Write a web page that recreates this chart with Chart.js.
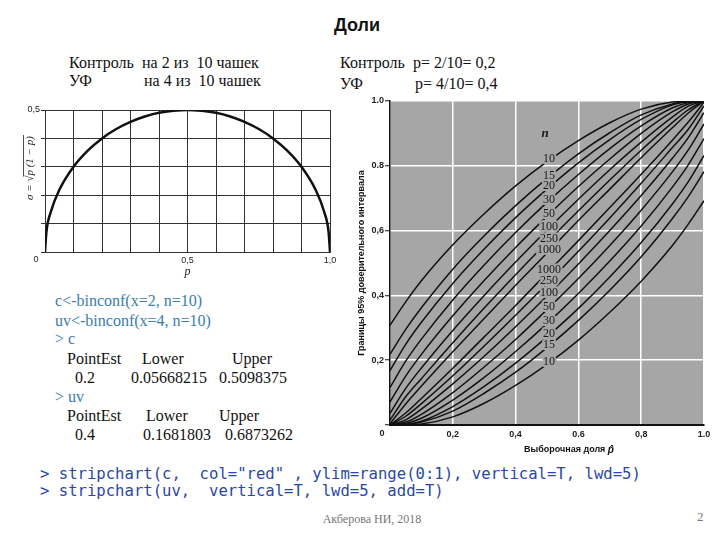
<!DOCTYPE html>
<html>
<head>
<meta charset="utf-8">
<script src="https://cdn.jsdelivr.net/npm/chart.js@4.4.0/dist/chart.umd.min.js"></script>
<style>
body { margin: 0; width: 720px; height: 540px; position: relative; background: #fff; overflow: hidden; font-family: "Liberation Serif", serif; }
.t { position: absolute; white-space: pre; line-height: 18px; font-size: 16px; color: #111; }
.r { color: #3a7db0; }
.code { position: absolute; white-space: pre; font-family: "DejaVu Sans Mono", monospace; font-size: 15.6px; line-height: 17px; color: #2a47a6; }
#left-box { position: absolute; left: 0; top: 100px; width: 345px; height: 185px; }
#right-box { position: absolute; left: 340px; top: 90px; width: 380px; height: 370px; }
</style>
</head>
<body>
<div class="t" style="left:307px;top:15px;width:100px;text-align:center;font:bold 18px 'Liberation Sans',sans-serif;line-height:20px;">Доли</div>

<div class="t" style="left:69px;top:54px;">Контроль</div>
<div class="t" style="left:142px;top:54px;">на 2 из  10 чашек</div>
<div class="t" style="left:69px;top:72px;">УФ</div>
<div class="t" style="left:144px;top:72px;">на 4 из  10 чашек</div>

<div class="t" style="left:340px;top:54px;">Контроль</div>
<div class="t" style="left:413px;top:54px;">p= 2/10= 0,2</div>
<div class="t" style="left:340px;top:75px;">УФ</div>
<div class="t" style="left:415px;top:75px;">p= 4/10= 0,4</div>

<div id="left-box"><canvas id="sigma-chart"></canvas></div>
<div id="right-box"><canvas id="ci-chart"></canvas></div>

<div class="t r" style="left:55px;top:292px;">c&lt;-binconf(x=2, n=10)</div>
<div class="t r" style="left:55px;top:312px;">uv&lt;-binconf(x=4, n=10)</div>
<div class="t r" style="left:55px;top:330px;">&gt; c</div>
<div class="t" style="left:67px;top:350px;">PointEst</div>
<div class="t" style="left:142px;top:350px;">Lower</div>
<div class="t" style="left:232px;top:350px;">Upper</div>
<div class="t" style="left:75px;top:369px;">0.2</div>
<div class="t" style="left:131px;top:369px;">0.05668215</div>
<div class="t" style="left:219px;top:369px;">0.5098375</div>
<div class="t r" style="left:55px;top:388px;">&gt; uv</div>
<div class="t" style="left:67px;top:407px;">PointEst</div>
<div class="t" style="left:146px;top:407px;">Lower</div>
<div class="t" style="left:219px;top:407px;">Upper</div>
<div class="t" style="left:75px;top:426px;">0.4</div>
<div class="t" style="left:143px;top:426px;">0.1681803</div>
<div class="t" style="left:225px;top:426px;">0.6873262</div>

<div class="code" style="left:40px;top:466px;">&gt; stripchart(c,  col="red" , ylim=range(0:1), vertical=T, lwd=5)</div>
<div class="code" style="left:40px;top:483px;">&gt; stripchart(uv,  vertical=T, lwd=5, add=T)</div>

<div class="t" style="left:272px;top:510px;width:200px;text-align:center;font-size:12px;color:#777;">Акберова НИ, 2018</div>
<div class="t" style="left:697px;top:508px;font-size:13px;color:#777;">2</div>

<script>
// left chart: sigma = sqrt(p(1-p))
const pLeft = [0, 0.005, 0.02, 0.05, 0.1, 0.15, 0.2, 0.25, 0.3, 0.35, 0.4, 0.45, 0.5,
    0.55, 0.6, 0.65, 0.7, 0.75, 0.8, 0.85, 0.9, 0.95, 0.98, 0.995, 1];
const sigma = [0, 0.071, 0.14, 0.218, 0.3, 0.357, 0.4, 0.433, 0.458, 0.477, 0.49, 0.497, 0.5,
    0.497, 0.49, 0.477, 0.458, 0.433, 0.4, 0.357, 0.3, 0.218, 0.14, 0.071, 0];
const leftXTickLabels = ["", "", "", "", "", "0,5", "", "", "", "", "1,0"];
const leftYTickLabels = ["", "", "", "", "", "0,5"];

// right chart: 95% confidence limits by sample size n
const pGrid = [0, 0.05, 0.1, 0.2, 0.3, 0.4, 0.5, 0.6, 0.7, 0.8, 0.9, 0.95, 1];
const sampleSizes = ["10", "15", "20", "30", "50", "100", "250", "1000"];
const upper10 = [0.308, 0.38, 0.445, 0.556, 0.652, 0.738, 0.813, 0.878, 0.933, 0.975, 0.997, 0.999, 1];
const upper15 = [0.218, 0.295, 0.362, 0.481, 0.584, 0.677, 0.761, 0.837, 0.902, 0.957, 0.991, 0.999, 1];
const upper20 = [0.168, 0.249, 0.317, 0.437, 0.543, 0.64, 0.728, 0.809, 0.881, 0.943, 0.988, 0.998, 1];
const upper30 = [0.116, 0.197, 0.265, 0.386, 0.494, 0.594, 0.687, 0.773, 0.853, 0.923, 0.979, 0.995, 1];
const upper50 = [0.071, 0.151, 0.218, 0.337, 0.446, 0.548, 0.644, 0.736, 0.821, 0.9, 0.967, 0.991, 1];
const upper100 = [0.036, 0.113, 0.176, 0.292, 0.4, 0.503, 0.602, 0.697, 0.788, 0.873, 0.951, 0.984, 1];
const upper250 = [0.015, 0.087, 0.143, 0.254, 0.361, 0.464, 0.564, 0.661, 0.756, 0.848, 0.934, 0.973, 1];
const upper1000 = [0.004, 0.065, 0.12, 0.226, 0.329, 0.431, 0.531, 0.631, 0.728, 0.825, 0.918, 0.963, 1];
const lower10 = [0, 0.001, 0.003, 0.025, 0.067, 0.122, 0.187, 0.262, 0.348, 0.444, 0.555, 0.62, 0.692];
const lower15 = [0, 0.001, 0.009, 0.043, 0.098, 0.163, 0.239, 0.323, 0.416, 0.519, 0.638, 0.705, 0.782];
const lower20 = [0, 0.002, 0.012, 0.057, 0.119, 0.191, 0.272, 0.36, 0.457, 0.563, 0.683, 0.751, 0.832];
const lower30 = [0, 0.005, 0.021, 0.077, 0.147, 0.227, 0.313, 0.406, 0.506, 0.614, 0.735, 0.803, 0.884];
const lower50 = [0, 0.009, 0.033, 0.1, 0.179, 0.264, 0.356, 0.452, 0.554, 0.663, 0.782, 0.849, 0.929];
const lower100 = [0, 0.016, 0.049, 0.127, 0.212, 0.303, 0.398, 0.497, 0.6, 0.708, 0.824, 0.887, 0.964];
const lower250 = [0, 0.027, 0.066, 0.152, 0.244, 0.339, 0.436, 0.536, 0.639, 0.746, 0.857, 0.913, 0.985];
const lower1000 = [0, 0.037, 0.082, 0.175, 0.272, 0.369, 0.469, 0.569, 0.671, 0.774, 0.88, 0.935, 0.996];
const rightXTickLabels = ["", "0,2", "0,4", "0.6", "0,8", "1.0"];
const rightYTickLabels = ["", "0,2", "0,4", "0,6", "0.8", "1.0"];

const upperSets = [upper10, upper15, upper20, upper30, upper50, upper100, upper250, upper1000];
const lowerSets = [lower10, lower15, lower20, lower30, lower50, lower100, lower250, lower1000];

const PLOT_GRAY = "#a6a6a6";

const toPoints = (xs, ys) => xs.map((x, i) => ({ x: x, y: ys[i] }));

// ---------- left chart ----------
new Chart(document.getElementById("sigma-chart"), {
    type: "line",
    data: {
        datasets: [
            {
                data: toPoints(pLeft, sigma),
                borderColor: "#111",
                borderWidth: 2.5,
                pointRadius: 0,
                cubicInterpolationMode: "monotone",
            },
        ],
    },
    options: {
        responsive: true,
        maintainAspectRatio: false,
        animation: false,
        layout: { padding: { top: 10, right: 15, bottom: 0, left: 0 } },
        plugins: { legend: { display: false }, tooltip: { enabled: false } },
        scales: {
            x: {
                type: "linear",
                min: 0,
                max: 1,
                ticks: {
                    stepSize: 0.1,
                    autoSkip: false,
                    maxRotation: 0,
                    padding: 3,
                    color: "#222",
                    font: { family: "Liberation Sans", size: 9 },
                    callback: (v, i) => leftXTickLabels[i],
                },
                grid: { color: "#333", lineWidth: 1, drawTicks: false },
                border: { color: "#333", width: 1 },
                title: {
                    display: true,
                    text: "p",
                    color: "#222",
                    font: { family: "Liberation Serif", size: 12, style: "italic" },
                    padding: { top: 0, bottom: 6 },
                },
                afterFit: (scale) => { scale.height = 33; },
            },
            y: {
                min: 0,
                max: 0.5,
                ticks: {
                    stepSize: 0.1,
                    padding: 1,
                    color: "#222",
                    font: { family: "Liberation Sans", size: 9 },
                    callback: (v, i) => leftYTickLabels[i],
                },
                grid: { color: "#333", lineWidth: 1, tickLength: 4 },
                border: { color: "#333", width: 1 },
                afterFit: (scale) => { scale.width = 45; },
            },
        },
    },
    plugins: [
        {
            id: "sigmaExtras",
            afterDraw: (chart) => {
                const ctx = chart.ctx;
                const a = chart.chartArea;
                ctx.save();
                ctx.fillStyle = "#222";
                ctx.font = "9px 'Liberation Sans'";
                ctx.textAlign = "center";
                ctx.textBaseline = "middle";
                ctx.fillText("0", a.left - 9, a.bottom + 8);

                // rotated y title with a root bar
                ctx.translate(30, 68);
                ctx.rotate(-Math.PI / 2);
                ctx.font = "italic 11px 'Liberation Serif'";
                ctx.textAlign = "left";
                const head = "σ = √";
                const body = "p (1 − p)";
                const w1 = ctx.measureText(head).width;
                const w2 = ctx.measureText(body).width;
                const x0 = -(w1 + w2) / 2;
                ctx.fillText(head, x0, 0);
                ctx.fillText(body, x0 + w1, 0);
                ctx.strokeStyle = "#222";
                ctx.lineWidth = 0.8;
                ctx.beginPath();
                ctx.moveTo(x0 + w1 - 1, -6.5);
                ctx.lineTo(x0 + w1 + w2 + 1, -6.5);
                ctx.stroke();
                ctx.restore();
            },
        },
    ],
});

// ---------- right chart ----------
const ciDatasets = [];
upperSets.forEach((ys, i) => {
    ciDatasets.push({ label: sampleSizes[i], data: toPoints(pGrid, ys) });
});
for (let i = lowerSets.length - 1; i >= 0; i--) {
    ciDatasets.push({ label: sampleSizes[i], data: toPoints(pGrid, lowerSets[i]) });
}
ciDatasets.forEach((ds) => {
    ds.borderColor = "#111";
    ds.borderWidth = 1.5;
    ds.pointRadius = 0;
    ds.cubicInterpolationMode = "monotone";
});

new Chart(document.getElementById("ci-chart"), {
    type: "line",
    data: { datasets: ciDatasets },
    options: {
        responsive: true,
        maintainAspectRatio: false,
        animation: false,
        layout: { padding: { top: 11, right: 16, bottom: 0, left: 12 } },
        plugins: { legend: { display: false }, tooltip: { enabled: false } },
        scales: {
            x: {
                type: "linear",
                min: 0,
                max: 1,
                ticks: {
                    stepSize: 0.2,
                    autoSkip: false,
                    maxRotation: 0,
                    padding: 4,
                    color: "#222",
                    font: { family: "Liberation Sans", size: 9, weight: "bold" },
                    callback: (v, i) => rightXTickLabels[i],
                },
                grid: { color: "#fff", lineWidth: 1.5, drawTicks: false },
                border: { color: "#111", width: 2 },
                afterFit: (scale) => { scale.height = 35; },
            },
            y: {
                min: 0,
                max: 1,
                ticks: {
                    stepSize: 0.2,
                    padding: 1,
                    color: "#222",
                    font: { family: "Liberation Sans", size: 9, weight: "bold" },
                    callback: (v, i) => rightYTickLabels[i],
                },
                grid: { color: "#fff", lineWidth: 1.5, tickLength: 5, tickColor: "#111", tickWidth: 1 },
                border: { color: "#111", width: 1.5 },
                title: {
                    display: true,
                    text: "Границы 95% доверительного интервала",
                    color: "#111",
                    font: { family: "Liberation Sans", size: 9, weight: "bold" },
                    padding: { top: 4, bottom: 0 },
                },
                afterFit: (scale) => { scale.width = 38; },
            },
        },
    },
    plugins: [
        {
            id: "plotBackground",
            beforeDraw: (chart) => {
                const ctx = chart.ctx;
                const a = chart.chartArea;
                ctx.save();
                ctx.fillStyle = PLOT_GRAY;
                ctx.fillRect(a.left, a.top, a.right - a.left, a.bottom - a.top);
                ctx.restore();
            },
        },
        {
            id: "curveLabels",
            afterDatasetsDraw: (chart) => {
                const ctx = chart.ctx;
                ctx.save();
                ctx.font = "12px 'Liberation Serif'";
                ctx.textAlign = "center";
                ctx.textBaseline = "middle";
                ctx.lineJoin = "round";
                chart.data.datasets.forEach((ds, i) => {
                    const pt = chart.getDatasetMeta(i).data[6];
                    const x = pt.x + 2;
                    const y = pt.y - 3;
                    ctx.strokeStyle = PLOT_GRAY;
                    ctx.lineWidth = 4;
                    ctx.strokeText(ds.label, x, y);
                    ctx.fillStyle = "#1a1a1a";
                    ctx.fillText(ds.label, x, y);
                });
                const top = chart.getDatasetMeta(0).data[6];
                ctx.font = "bold italic 13px 'Liberation Serif'";
                ctx.fillText("n", top.x - 2, top.y - 28);
                ctx.restore();
            },
            afterDraw: (chart) => {
                const ctx = chart.ctx;
                const a = chart.chartArea;
                const xs = chart.scales.x;
                ctx.save();
                ctx.fillStyle = "#222";
                ctx.textBaseline = "middle";
                ctx.textAlign = "center";
                ctx.font = "bold 9px 'Liberation Sans'";
                ctx.fillText("0", a.left - 8, a.bottom + 9);

                // x axis title, shifted right as in the source figure
                const main = "Выборочная доля ";
                const hat = "p̂";
                ctx.textAlign = "left";
                const w1 = ctx.measureText(main).width;
                ctx.font = "bold italic 10px 'Liberation Sans'";
                const w2 = ctx.measureText(hat).width;
                const cx = xs.getPixelForValue(0.57);
                const x0 = cx - (w1 + w2) / 2;
                ctx.font = "bold 9px 'Liberation Sans'";
                ctx.fillStyle = "#111";
                ctx.fillText(main, x0, a.bottom + 25);
                ctx.font = "bold italic 10px 'Liberation Sans'";
                ctx.fillText(hat, x0 + w1, a.bottom + 25);
                ctx.restore();
            },
        },
    ],
});
</script>
</body>
</html>
